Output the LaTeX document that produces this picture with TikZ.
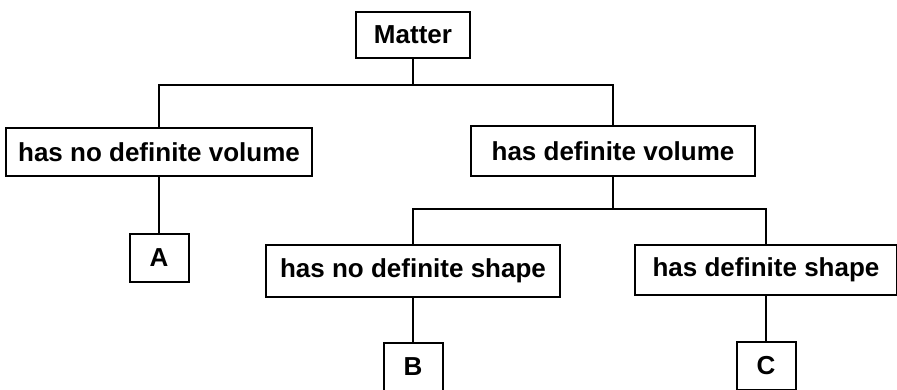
\documentclass[tikz,border=0pt]{standalone}
\usepackage{fontspec}
\setmainfont{Liberation Sans}
\usetikzlibrary{positioning}

\begin{document}
\begin{tikzpicture}[
    x=1pt, y=-1pt,
    box/.style={
        rectangle,
        draw,
        line width=2pt,
        minimum height=48pt,
        inner xsep=0pt,
        font=\fontsize{26}{29}\selectfont\bfseries
    },
    letter/.style={
        box,
        minimum width=59pt,
        minimum height=48pt
    },
    branch/.style={
        line width=2.2pt
    }
]
\useasboundingbox (0,0) rectangle (897,390);

% Root
\node[box, minimum width=114pt, minimum height=46pt] (matter) at (413,35) {Matter};

% Volume
\node[box, minimum width=306pt] (novolume) at (159,152) {has no definite volume};
\node[box, minimum width=284pt, minimum height=50pt] (volume) at (613,151) {has definite volume};

% Shape
\node[box, minimum width=294pt, minimum height=51pt] (noshape) at (413,271) {has no definite shape};
\node[box, minimum width=262pt, minimum height=50pt] (shape) at (766,270) {has definite shape};

% Letters
\node[letter, below=56pt of novolume] (a) {A};
\node[letter, below=44pt of noshape] (b) {B};
\node[letter, below=45pt of shape] (c) {C};

% Matter to volume
\draw[branch] (matter.south) -- ++(0,26) coordinate (fork1);
\draw[branch] (fork1) -| (novolume.north);
\draw[branch] (fork1) -| (volume.north);

% Volume to shape
\draw[branch] (novolume) -- (a);
\draw[branch] (volume.south) -- ++(0,32) coordinate (fork2);
\draw[branch] (fork2) -| (noshape.north);
\draw[branch] (fork2) -| (shape.north);

% Shape to letters
\draw[branch] (noshape) -- (b);
\draw[branch] (shape) -- (c);

\end{tikzpicture}
\end{document}
